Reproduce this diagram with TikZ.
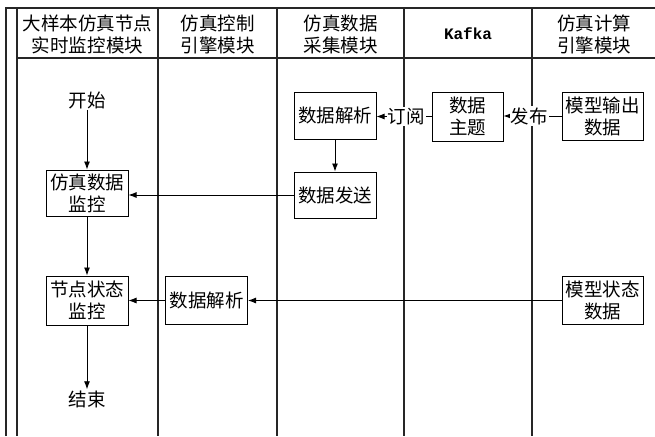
\documentclass[tikz,border=0pt]{standalone}
\usepackage{fontspec}
\setmainfont{Liberation Serif}
\newfontfamily\cjk{Noto Sans CJK SC}
\newfontfamily\kmono{Liberation Mono}
\usetikzlibrary{arrows.meta}
\begin{document}
\begin{tikzpicture}[x=1pt,y=-1pt,
  lane/.style={line width=1.1pt, draw=black!85},
  cjkfont/.style={font=\cjk\fontsize{18.5}{22}\selectfont},
  box/.style={draw, line width=1pt, minimum width=82pt, minimum height=48pt, inner sep=0pt, align=center, cjkfont},
  txt/.style={inner sep=1pt, align=center, cjkfont},
  hdr/.style={inner sep=0pt, align=center, cjkfont},
  lbl/.style={fill=white, inner sep=1pt, cjkfont},
  arr/.style={-{Latex[length=8pt,width=6pt]}, line width=0.9pt}]
\useasboundingbox (0,0) rectangle (655,436);
% swimlane frame
\draw[lane] (6,436) -- (6,8) -- (655,8);
\draw[lane] (17,8) -- (17,436);
\draw[lane] (17,58) -- (655,58);
\draw[lane] (158,8) -- (158,436);
\draw[lane] (277,8) -- (277,436);
\draw[lane] (404,8) -- (404,436);
\draw[lane] (532,8) -- (532,436);
% headers
\node[hdr] (h1) at (87.5,34) {大样本仿真节点\\实时监控模块};
\node[hdr] (h2) at (217.5,34) {仿真控制\\引擎模块};
\node[hdr] (h3) at (340.5,34) {仿真数据\\采集模块};
\node[inner sep=0pt, font=\kmono\bfseries\fontsize{16}{20}\selectfont] (h4) at (468,34) {Kafka};
\node[hdr] (h5) at (594,34) {仿真计算\\引擎模块};
% nodes
\node[txt] (start) at (87,100) {开始};
\node[box, minimum height=46pt] (m1) at (87,193) {仿真数据\\监控};
\node[box, minimum height=49pt] (m2) at (87,300.5) {节点状态\\监控};
\node[txt] (end) at (87,399) {结束};
\node[box] (p2) at (206.5,300.5) {数据解析};
\node[box, minimum height=47pt] (p3) at (335,115.5) {数据解析};
\node[box, minimum height=46pt] (send) at (335,195) {数据发送};
\node[box, minimum width=71pt, minimum height=49pt] (topic) at (467.5,116.5) {数据\\主题};
\node[box, minimum width=81pt] (out) at (602.5,116) {模型输出\\数据};
\node[box, minimum width=81pt] (state) at (602.5,300.5) {模型状态\\数据};
% connectors
\draw[arr] (start) -- (m1);
\draw[arr] (m1) -- (m2);
\draw[arr] (m2) -- (end);
\draw[arr] (p3) -- (send);
\draw[arr] (send) -- (send -| m1.east);
\draw[arr] (state) -- (p2);
\draw[arr] (p2) -- (m2);
\draw[arr] (topic.west) -- node[lbl, pos=0.46] {订阅} (topic.west -| p3.east);
\draw[arr] (out.west) -- node[lbl, pos=0.56] {发布} (out.west -| topic.east);
\end{tikzpicture}
\end{document}
